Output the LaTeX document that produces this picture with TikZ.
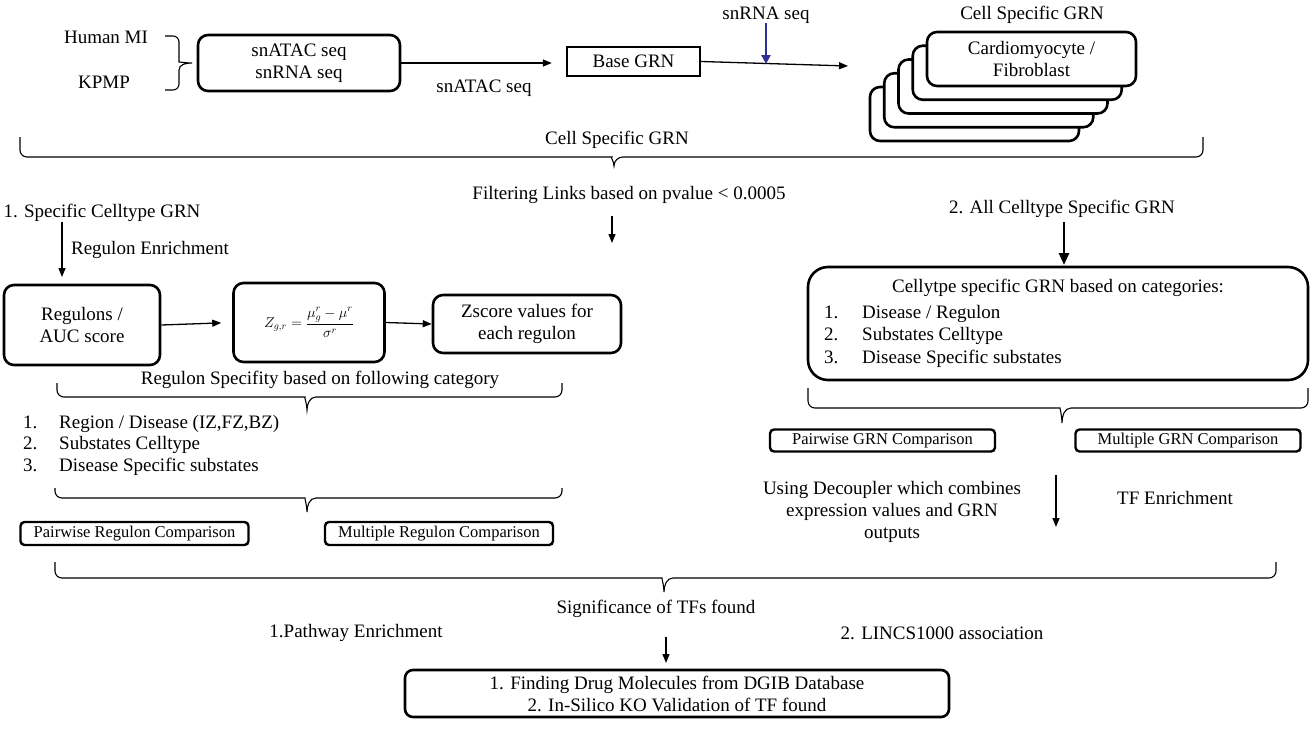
\documentclass[tikz,border=0pt]{standalone}
\usepackage{fontspec}
\setmainfont{Liberation Serif}
\usetikzlibrary{arrows.meta,positioning}
\definecolor{seqblue}{RGB}{46,49,146}

\begin{document}
\begin{tikzpicture}[x=1pt, y=-1pt,
	every node/.style={font=\fontsize{19}{22}\selectfont, inner sep=0pt},
	box/.style={draw, line width=2.6pt, rounded corners=10pt, align=center, fill=white},
	cmpbox/.style={draw, line width=2.4pt, rounded corners=4pt, minimum width=228pt, minimum height=23pt, font=\fontsize{16.5}{19}\selectfont},
	arr/.style={-{Triangle[length=9pt,width=7pt]}, line width=1.3pt},
	brline/.style={line width=1.1pt}]
	\useasboundingbox (0,0) rectangle (1313,728);
	% Inputs
	\node (human) at (106,37) {Human MI};
	\node (kpmp) at (104,82) {KPMP};
	\draw[brline] (165,36) [rounded corners=6pt] -- (179,36) -- (179,56) [sharp corners] to[out=-90,in=180] (192,63) to[out=180,in=90] (179,70) [rounded corners=6pt] -- (179,90) -- (165,90);
	\node[box, minimum width=202pt, minimum height=56pt] (reads) at (299,63) {snATAC seq\\snRNA seq};
	\node[draw, line width=2.4pt, minimum width=133pt, minimum height=29pt] (base) at (633.5,61.5) {Base GRN};
	\draw[arr, shorten >=14pt] (reads.east) -- (reads.east -| base.west);
	\node (atac) at (484,88) {snATAC seq};
	% Cell specific
	\coordinate (stackin) at (848,66);
	\coordinate (rnajoin) at (766,64);
	\draw[arr] (base.east) -- (stackin);
	\node (rna) at (766,15) {snRNA seq};
	\draw[-{Triangle[length=9pt,width=9pt]}, seqblue, line width=2.6pt] (rna.south) -- (rnajoin);
	\node (cellgrn) at (1032,15) {Cell Specific GRN};
	\foreach \i in {4,...,1} {
		\node[box, minimum width=209pt, minimum height=54pt] (cell\i) at (1031.5-14.25*\i, 59+13.75*\i) {};
	}
	\node[box, minimum width=209pt, minimum height=54pt] (cell0) at (1031.5,59) {Cardiomyocyte /\\Fibroblast};
	% Braces
	\foreach \xa/\xb/\xt/\ye/\yb/\yt in {20/1203/614/137/157/166, 57/562/307/383/397/410, 55/562/307/488/498/512, 808/1308/1062/388/408/423, 55/1276/664/562/578/592} {
		\draw[brline] (\xa,\ye) [rounded corners=7pt] -- (\xa,\yb) -- (\xt-9,\yb) [sharp corners] to[out=0,in=90] (\xt,\yt) to[out=90,in=180] (\xt+9,\yb) [rounded corners=7pt] -- (\xb,\yb) -- (\xb,\ye);
	}
	\node (brlabel) at (617,140) {Cell Specific GRN};
	% Filtering
	\node (filter) at (629,195) {Filtering Links based on pvalue < 0.0005};
	\coordinate (fdown) at (612,243);
	\draw[arr, shorten <=12pt] (filter.south -| fdown) -- (fdown);
	% Specific celltype
	\node (spec) at (102,213) {1. Specific Celltype GRN};
	\node (enrich) at (150,250) {Regulon Enrichment};
	\node[box, minimum width=156pt, minimum height=80pt] (regulons) at (82,325) {Regulons /\\AUC score};
	\coordinate (regtop) at (62,277);
	\draw[arr] (spec.south -| regtop) -- (regtop);
	\node[box, minimum width=151pt, minimum height=79pt] (zform) at (309,322.5) {\fontsize{14}{16}\selectfont$\displaystyle Z_{g,r}=\frac{\mu_g^r-\mu^r}{\sigma^r}$};
	\draw[arr, shorten >=11pt] (regulons.east) -- (zform.west);
	\node[box, minimum width=188pt, minimum height=58pt] (zscore) at (527,324) {Zscore values for\\each regulon};
	\draw[arr] (zform.east) -- (zscore.west);
	\node (specify) at (320,380) {Regulon Specifity based on following category};
	\foreach \t [count=\i] in {{Region / Disease (IZ,FZ,BZ)}, Substates Celltype, Disease Specific substates} {
		\node[anchor=base west] (lnum\i) at (23,406.5+21.5*\i) {\i.};
		\node[anchor=base west] (litem\i) at (59,406.5+21.5*\i) {\t};
	}
	\node[cmpbox] (pairreg) at (134.5,533.5) {Pairwise Regulon Comparison};
	\node[cmpbox] (multreg) at (439,533.5) {Multiple Regulon Comparison};
	% All celltype
	\node (allgrn) at (1062,209) {2. All Celltype Specific GRN};
	\node[box, rounded corners=20pt, minimum width=500pt, minimum height=113pt] (catbox) at (1058,323.5) {};
	\coordinate (cattop) at (1064,265);
	\draw[-{Triangle[length=12pt,width=10pt]}, line width=2.6pt, shorten <=4pt] (allgrn.south -| cattop) -- (cattop);
	\node (cathead) at (1058,288) {Cellytpe specific GRN based on categories:};
	\foreach \t [count=\i] in {Disease / Regulon, Substates Celltype, Disease Specific substates} {
		\node[anchor=base west] (rnum\i) at (824,295.5+22.5*\i) {\i.};
		\node[anchor=base west] (ritem\i) at (862,295.5+22.5*\i) {\t};
	}
	\node[cmpbox, minimum width=225pt, minimum height=22pt] (pairgrn) at (882.5,440.5) {Pairwise GRN Comparison};
	\node[cmpbox, minimum width=225pt, minimum height=22pt] (multgrn) at (1188,440.5) {Multiple GRN Comparison};
	\node[align=center] (decoupler) at (892,512) {Using Decoupler which combines\\expression values and GRN\\outputs};
	\coordinate (tftop) at (1056,475);
	\coordinate (tfend) at (1056,527);
	\draw[arr] (tftop) -- (tfend);
	\node (tfenrich) at (1175,498) {TF Enrichment};
	% Significance
	\node (signif) at (656,609) {Significance of TFs found};
	\node (pathway) at (356,633) {1.Pathway Enrichment};
	\node (lincs) at (942,633) {2. LINCS1000 association};
	\node[box, rounded corners=8pt, minimum width=544pt, minimum height=47pt] (drugs) at (677,693.5) {1. Finding Drug Molecules from DGIB Database\\2. In-Silico KO Validation of TF found};
	\coordinate (drugtop) at (666,663);
	\draw[arr, shorten <=19pt] (signif.south -| drugtop) -- (drugtop);
\end{tikzpicture}
\end{document}
